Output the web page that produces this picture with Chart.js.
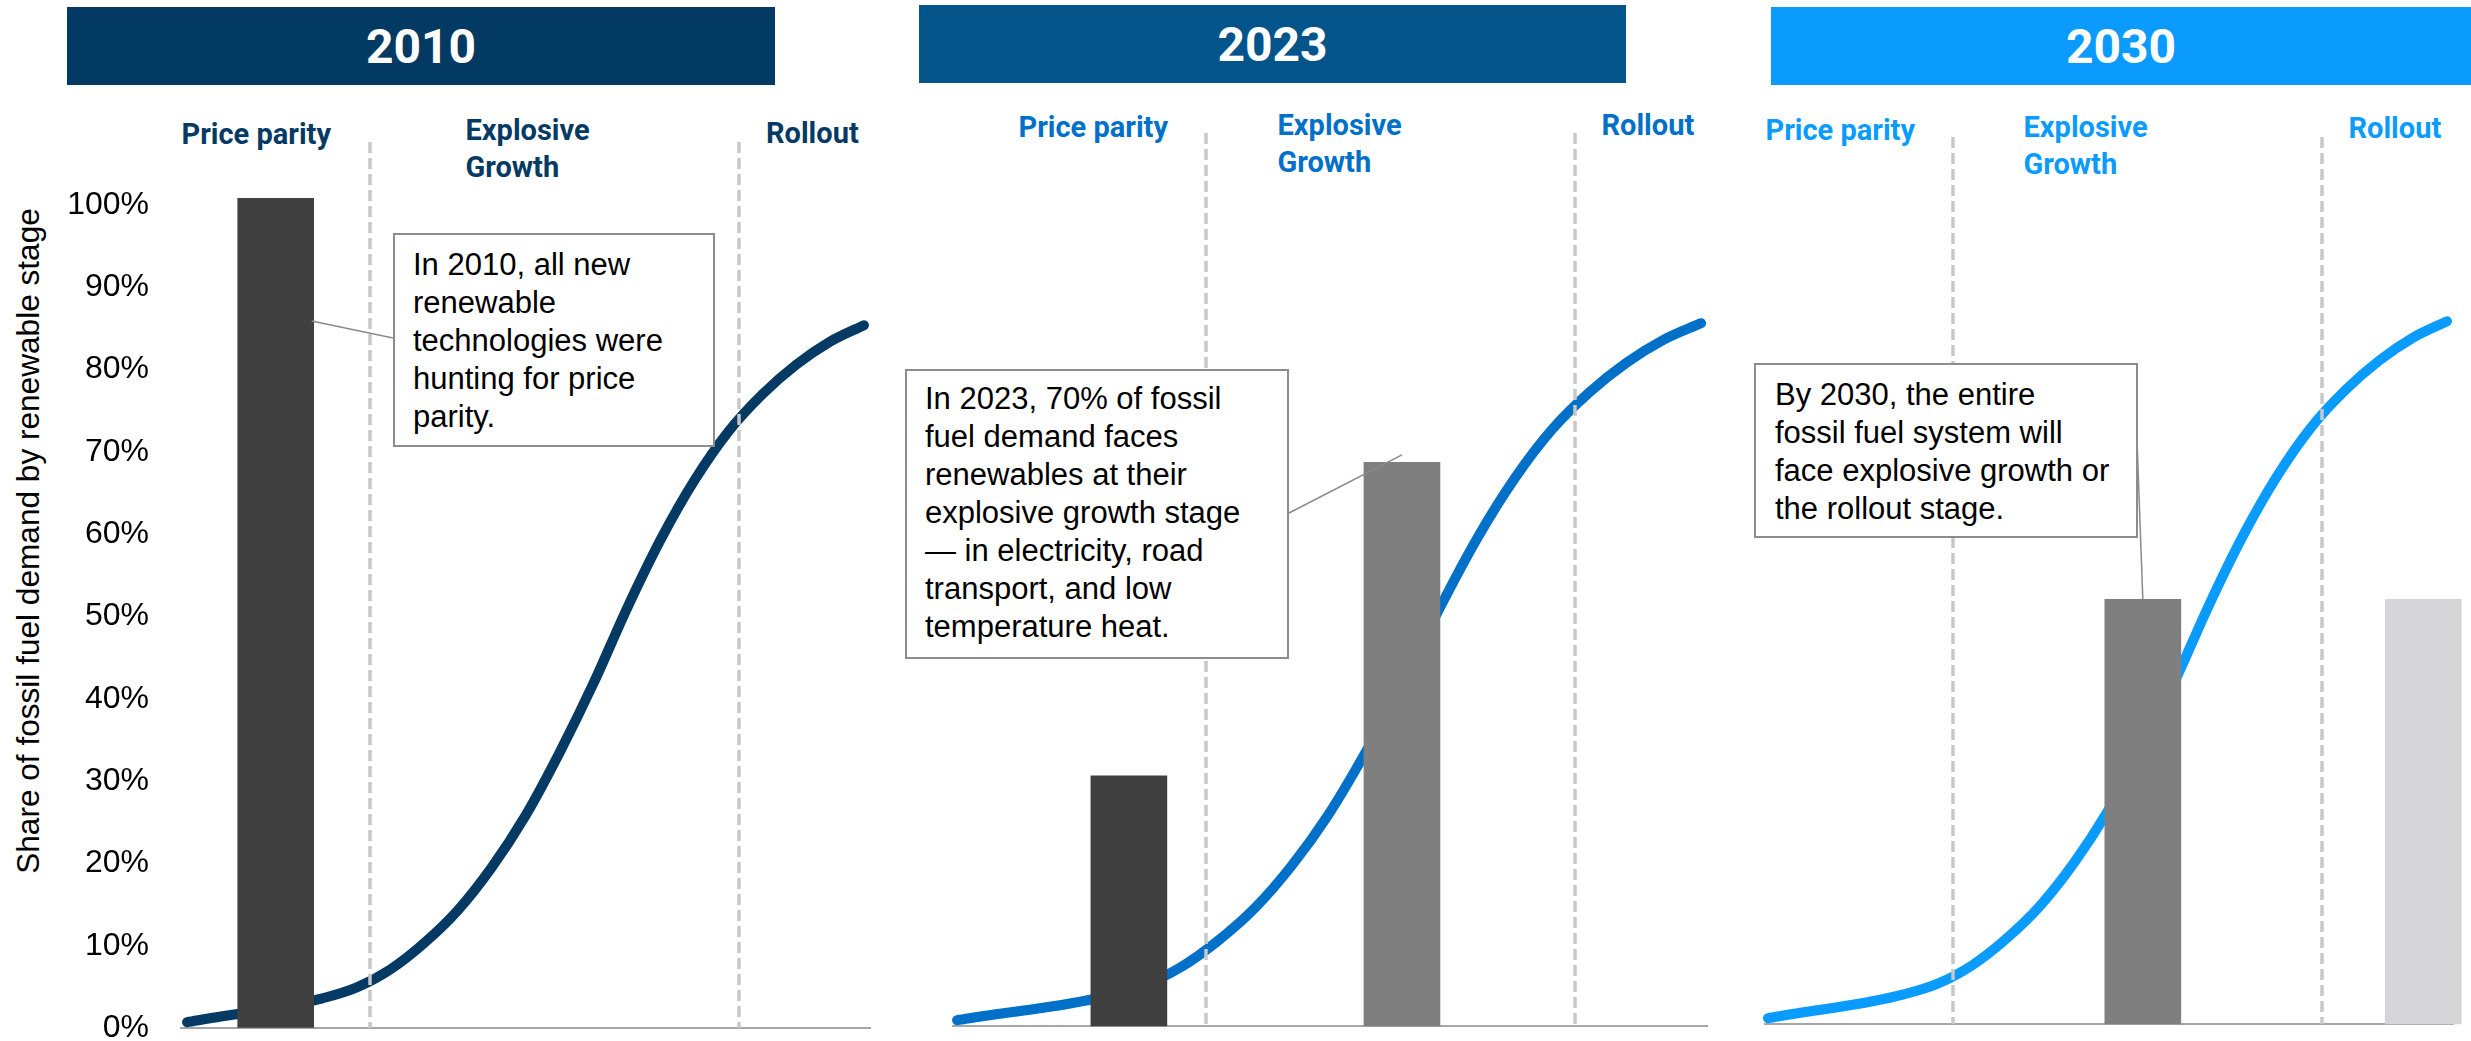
<!DOCTYPE html>
<html>
<head>
<meta charset="utf-8">
<script src="https://cdn.jsdelivr.net/npm/chart.js@4.4.1/dist/chart.umd.min.js"></script>
<style>
  html, body { margin: 0; padding: 0; background: #fff; }
  #page { position: relative; width: 2471px; height: 1041px; overflow: hidden; background: #fff; }
  canvas { position: absolute; top: 0; }
  .hdr { position: absolute; height: 78px; color: #fff; font: 700 48px Roboto, sans-serif; display: flex; align-items: center; justify-content: center; }
  .stage { position: absolute; font: 700 29px Roboto, sans-serif; line-height: 37px; white-space: nowrap; }
  .note { position: absolute; box-sizing: border-box; background: #fff; border: 2px solid #8c8c8c; font: 31px "Liberation Sans", Arial, sans-serif; line-height: 38px; color: #000; white-space: nowrap; }
  #ytitle { position: absolute; left: 28px; top: 541px; transform: translate(-50%, -50%) rotate(-90deg); font: 31.6px "Liberation Sans", Arial, sans-serif; color: #000; white-space: nowrap; }
</style>
</head>
<body>
<div id="page">
  <div id="ytitle">Share of fossil fuel demand by renewable stage</div>
</div>
<script>
const YEARS = ['2010', '2023', '2030'];
const STAGES = ['Price parity', 'Explosive<br>Growth', 'Rollout'];
const Y_TICKS = [0, 10, 20, 30, 40, 50, 60, 70, 80, 90, 100];

// adoption S-curve, x = % of the timeline, y = % share
const CURVE_X = [0, 5, 10, 15, 20, 25, 30, 35, 40, 45, 50, 55, 60, 65, 70, 75, 80, 85, 90, 95, 100];
const CURVE_Y = [0.7, 1.4, 2.0, 2.7, 3.6, 4.9, 7.1, 10.3, 14.3, 19.5, 25.8, 33.4, 41.8, 51.0, 59.4, 66.6, 72.5, 77.0, 80.6, 83.4, 85.4];

// stage boundaries on the timeline
const SPLITS_2010 = [27.0, 81.5];
const SPLITS_2023 = [33.4, 83.1];
const SPLITS_2030 = [27.2, 81.6];

// share of fossil fuel demand per stage
const BAR_X_2010 = [13.1];
const BAR_Y_2010 = [100.8];
const BAR_X_2023 = [23.1, 59.8];
const BAR_Y_2023 = [30.4, 68.5];
const BAR_X_2030 = [55.2, 96.5];
const BAR_Y_2030 = [51.6, 51.6];

const NOTE_2010 = ['In 2010, all new', 'renewable', 'technologies were', 'hunting for price', 'parity.'];
const NOTE_2023 = ['In 2023, 70% of fossil', 'fuel demand faces', 'renewables at their', 'explosive growth stage', '— in electricity, road', 'transport, and low', 'temperature heat.'];
const NOTE_2030 = ['By 2030, the entire', 'fossil fuel system will', 'face explosive growth or', 'the rollout stage.'];

const PANELS = [
  {
    year: YEARS[0], splits: SPLITS_2010, barX: BAR_X_2010, barY: BAR_Y_2010, note: NOTE_2010,
    barColors: ['#404040'], line: '#043a63', head: '#033a63', showY: true,
    cv: { left: 0, width: 890 }, area: { left: 181, right: 870, top: 205, bottom: 1028 },
    xMin: -0.89, xMax: 100.89, dashTop: 142,
    hdr: { left: 67, top: 7, width: 708 },
    labels: [[181.5, 116], [465.5, 112], [766, 115]],
    box: { left: 393, top: 233, width: 322, height: 214, padL: 18, padT: 11 },
    link: { bar: 0, dx: 36, y: 85.9, to: [393, 338] },
  },
  {
    year: YEARS[1], splits: SPLITS_2023, barX: BAR_X_2023, barY: BAR_Y_2023, note: NOTE_2023,
    barColors: ['#404040', '#7f7f7f'], line: '#0070c8', head: '#02548b', showY: false,
    cv: { left: 890, width: 830 }, area: { left: 953, right: 1707, top: 203, bottom: 1026 },
    xMin: -0.54, xMax: 100.8, dashTop: 133,
    hdr: { left: 919, top: 5, width: 707 },
    labels: [[1018.5, 109], [1277.5, 107], [1601.5, 107]],
    box: { left: 905, top: 369, width: 384, height: 290, padL: 18, padT: 9 },
    link: { bar: 1, dx: 0, y: 69.4, to: [1289, 513] },
  },
  {
    year: YEARS[2], splits: SPLITS_2030, barX: BAR_X_2030, barY: BAR_Y_2030, note: NOTE_2030,
    barColors: ['#7f7f7f', '#d5d5d7'], line: '#0a9bff', head: '#0b9bff', showY: false,
    cv: { left: 1720, width: 751 }, area: { left: 1765, right: 2453, top: 201, bottom: 1024 },
    xMin: -0.44, xMax: 100.88, dashTop: 137,
    hdr: { left: 1771, top: 7, width: 700 },
    labels: [[1765.5, 112], [2023.5, 109], [2348.5, 110]],
    box: { left: 1754, top: 363, width: 384, height: 175, padL: 19, padT: 11 },
    link: { bar: 0, dx: 0, y: 51.6, to: [2137, 440] },
  },
];

const page = document.getElementById('page');

const overlay = {
  id: 'overlay',
  afterDatasetsDraw(chart, args, p) {
    const { ctx, scales: { x, y }, chartArea } = chart;
    ctx.save();
    // stage separators
    ctx.strokeStyle = '#c8c8c8';
    ctx.lineWidth = 3.5;
    ctx.setLineDash([11, 5]);
    p.splits.forEach(v => {
      const px = Math.round(x.getPixelForValue(v));
      ctx.beginPath();
      ctx.moveTo(px, p.dashTop);
      ctx.lineTo(px, chartArea.bottom);
      ctx.stroke();
    });
    // callout leader
    ctx.setLineDash([]);
    ctx.strokeStyle = '#8a8a8a';
    ctx.lineWidth = 1.5;
    const bx = x.getPixelForValue(p.barX[p.link.bar]) + p.link.dx;
    const by = y.getPixelForValue(p.link.y);
    ctx.beginPath();
    ctx.moveTo(bx, by);
    ctx.lineTo(p.link.to[0] - p.cvLeft, p.link.to[1]);
    ctx.stroke();
    ctx.restore();
  },
};

PANELS.forEach(p => {
  const hdr = document.createElement('div');
  hdr.className = 'hdr';
  hdr.style.cssText = `left:${p.hdr.left}px;top:${p.hdr.top}px;width:${p.hdr.width}px;background:${p.head}`;
  hdr.textContent = p.year;
  page.appendChild(hdr);

  STAGES.forEach((s, i) => {
    const el = document.createElement('div');
    el.className = 'stage';
    el.style.cssText = `left:${p.labels[i][0]}px;top:${p.labels[i][1]}px;color:${p.line}`;
    el.innerHTML = s;
    page.appendChild(el);
  });

  const cv = document.createElement('canvas');
  cv.width = p.cv.width;
  cv.height = 1041;
  cv.style.left = p.cv.left + 'px';
  page.appendChild(cv);

  const box = document.createElement('div');
  box.className = 'note';
  box.style.cssText = `left:${p.box.left}px;top:${p.box.top}px;width:${p.box.width}px;height:${p.box.height}px;padding:${p.box.padT}px 0 0 ${p.box.padL}px`;
  box.innerHTML = p.note.join('<br>');
  page.appendChild(box);

  const areaLeftPad = p.showY ? 0 : p.area.left - p.cv.left;

  new Chart(cv, {
    type: 'line',
    data: {
      datasets: [
        {
          type: 'bar',
          data: p.barX.map((v, i) => ({ x: v, y: p.barY[i] })),
          backgroundColor: p.barColors,
          barThickness: 76,
          borderWidth: 0,
          clip: false,
          order: 1,
        },
        {
          type: 'line',
          data: CURVE_X.map((v, i) => ({ x: v, y: CURVE_Y[i] })),
          borderColor: p.line,
          borderWidth: 10,
          borderCapStyle: 'round',
          borderJoinStyle: 'round',
          cubicInterpolationMode: 'monotone',
          pointRadius: 0,
          clip: false,
          order: 2,
        },
      ],
    },
    options: {
      responsive: false,
      devicePixelRatio: 1,
      animation: false,
      events: [],
      layout: {
        padding: {
          left: areaLeftPad,
          right: p.cv.left + p.cv.width - p.area.right,
          top: p.area.top,
          bottom: 1041 - p.area.bottom,
        },
      },
      plugins: { legend: { display: false }, tooltip: { enabled: false }, overlay: { ...p, cvLeft: p.cv.left } },
      scales: {
        x: {
          type: 'linear',
          min: p.xMin,
          max: p.xMax,
          offset: false,
          ticks: { display: false },
          grid: { display: false, drawTicks: false },
          border: { display: true, color: '#a6a6a6', width: 2 },
        },
        y: {
          display: p.showY,
          min: 0,
          max: 100,
          afterBuildTicks: s => { s.ticks = Y_TICKS.map(v => ({ value: v })); },
          afterFit: s => { if (p.showY) s.width = p.area.left - p.cv.left; },
          ticks: {
            padding: 0,
            color: '#000',
            font: { family: '"Liberation Sans", Arial, sans-serif', size: 32, lineHeight: 0.8 },
            callback: v => v + '%',
          },
          grid: { display: true, drawOnChartArea: false, drawTicks: true, tickLength: 32, color: 'rgba(0,0,0,0)' },
          border: { display: false },
        },
      },
    },
    plugins: [overlay],
  });
});
</script>
</body>
</html>
